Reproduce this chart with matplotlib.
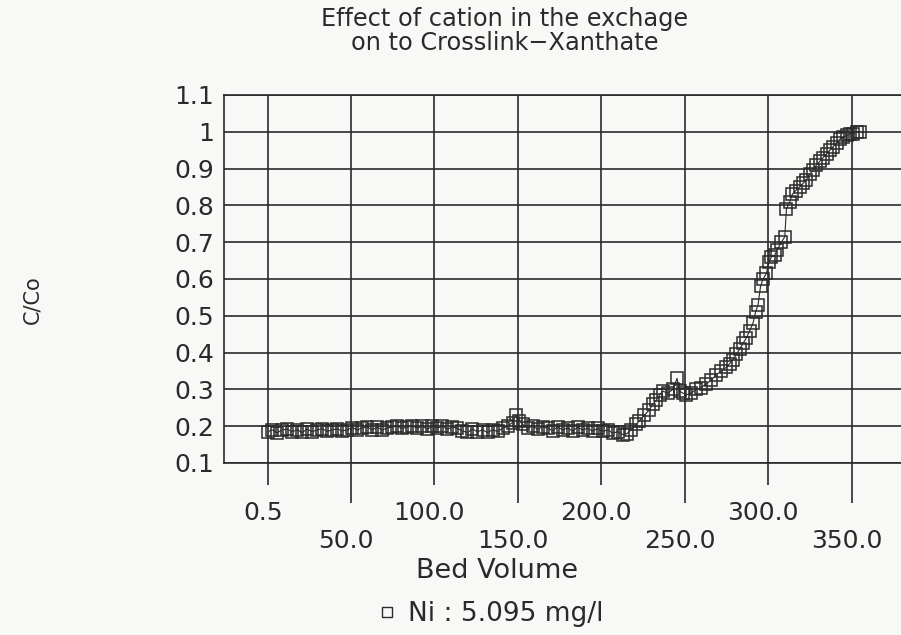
import matplotlib
matplotlib.use("Agg")
import matplotlib.pyplot as plt
from matplotlib.lines import Line2D
from matplotlib.ticker import NullLocator
import matplotlib.transforms as mtransforms

# Breakthrough data: bed volume vs. C/Co for Ni on crosslinked xanthate
bed_volume = [
    0.5, 3, 6, 9, 12, 15, 18, 21, 24, 27, 30, 33, 36, 39, 42, 45, 48, 51, 54, 57,
    60, 63, 66, 69, 72, 75, 78, 81, 84, 87, 90, 93, 96, 99, 102, 105, 108, 111,
    114, 117, 120, 123, 126, 129, 132, 135, 138, 141, 144, 147, 149, 151, 153,
    156, 159, 162, 165, 168, 171, 174, 177, 180, 183, 186, 189, 192, 195, 198,
    201, 204, 207, 210, 213,
    215.5, 218, 221, 223, 226, 229, 231, 233, 235, 237, 240, 243, 245.5, 247,
    249, 251, 254, 257, 260, 263, 266, 269, 272, 275, 277, 279, 281, 283, 285,
    287, 289, 291, 292.5, 294, 295.5, 297, 299, 300.5, 302, 304, 305.5, 308,
    310, 311, 313, 314.5, 316.5, 319, 321, 323, 325, 327, 329, 331, 333, 335,
    337, 339, 341, 343, 345, 347, 349, 351, 353, 355,
]
c_over_co = [
    0.185, 0.19, 0.182, 0.19, 0.192, 0.185, 0.19, 0.183, 0.192, 0.185, 0.19,
    0.193, 0.186, 0.19, 0.193, 0.187, 0.19, 0.196, 0.19, 0.195, 0.198, 0.19,
    0.197, 0.19, 0.195, 0.198, 0.2, 0.194, 0.198, 0.2, 0.195, 0.2, 0.192,
    0.2, 0.195, 0.2, 0.192, 0.198, 0.194, 0.187, 0.183, 0.192, 0.185, 0.19,
    0.183, 0.19, 0.186, 0.194, 0.2, 0.21, 0.23, 0.215, 0.205, 0.195, 0.2,
    0.192, 0.198, 0.195, 0.188, 0.198, 0.19, 0.195, 0.187, 0.197, 0.19, 0.194,
    0.187, 0.194, 0.186, 0.19, 0.181, 0.185, 0.177,
    0.18, 0.19, 0.205, 0.215, 0.23, 0.245, 0.26, 0.27, 0.285, 0.295, 0.29,
    0.30, 0.33, 0.295, 0.29, 0.285, 0.29, 0.30, 0.305, 0.315, 0.325, 0.34,
    0.35, 0.36, 0.37, 0.38, 0.395, 0.41, 0.425, 0.44, 0.46, 0.48, 0.51,
    0.53, 0.58, 0.60, 0.615, 0.645, 0.66, 0.665, 0.68, 0.70, 0.715, 0.79,
    0.81, 0.83, 0.84, 0.85, 0.86, 0.87, 0.885, 0.895, 0.91, 0.92, 0.93,
    0.94, 0.95, 0.96, 0.97, 0.98, 0.985, 0.99, 0.995, 0.995, 1.0, 1.0,
]

# x ticks alternate between an upper and a lower label row
x_ticks = [0.5, 50, 100, 150, 200, 250, 300, 350]
x_labels = ["0.5", "50.0", "100.0", "150.0", "200.0", "250.0", "300.0", "350.0"]
x_lower_row = [False, True, False, True, False, True, False, True]
y_ticks = [0.1, 0.2, 0.3, 0.4, 0.5, 0.6, 0.7, 0.8, 0.9, 1.0, 1.1]
y_labels = ["0.1", "0.2", "0.3", "0.4", "0.5", "0.6", "0.7", "0.8", "0.9", "1", "1.1"]

title_text = "Effect of cation in the exchage\non to Crosslink\u2212Xanthate"
legend_text = "Ni : 5.095 mg/l"

ink = "#2a2a2a"
paper = "#f8f8f6"
plt.rcParams["font.family"] = ["DejaVu Sans"]

fig = plt.figure(figsize=(9.01, 6.35), dpi=100, facecolor=paper)
ax_h_px = 463 - 95
ax = fig.add_axes([224 / 901, 172 / 635, (905 - 224) / 901, ax_h_px / 635])
ax.set_facecolor(paper)

ax.plot(bed_volume, c_over_co, color=ink, lw=0.8, marker="s", ms=8.5,
        mfc="none", mec=ink, mew=1.1, zorder=3)

ax.set_xlim(-25.8, 382)
ax.set_ylim(0.1, 1.1)

ax.set_yticks(y_ticks)
ax.set_yticklabels(y_labels, fontsize=18, color=ink)
ax.tick_params(axis="y", length=0, pad=7)

ax.xaxis.set_major_locator(NullLocator())
ax.set_xticks(x_ticks, minor=True)
ax.set_xticklabels([("\n" + t) if low else t for t, low in zip(x_labels, x_lower_row)],
                   minor=True, fontsize=18, color=ink, linespacing=1.25)
ax.tick_params(axis="x", which="minor", direction="out", bottom=True,
               length=0, color=ink, pad=27)

ax.grid(True, which="minor", axis="x", color=ink, lw=1.2)
ax.grid(True, which="major", axis="y", color=ink, lw=1.2)
ax.set_axisbelow(True)

# tick marks below the axis: short for the upper label row, long for the lower row
upper_pos = [t for t, low in zip(x_ticks, x_lower_row) if not low]
lower_pos = [t for t, low in zip(x_ticks, x_lower_row) if low]
xform = ax.get_xaxis_transform()
ax.vlines(upper_pos, -22 / ax_h_px, 0, transform=xform, colors=ink, lw=1.2, clip_on=False)
ax.vlines(lower_pos, -40 / ax_h_px, 0, transform=xform, colors=ink, lw=1.2, clip_on=False)

# labels sit a little left of their tick marks
shift = mtransforms.ScaledTranslation(-5 / 100, 0, fig.dpi_scale_trans)
for tick in ax.xaxis.get_minor_ticks(len(x_ticks)):
    tick.label1.set_transform(tick.label1.get_transform() + shift)

for s in ax.spines.values():
    s.set_color(ink)
    s.set_linewidth(1.2)

fig.text(505 / 901, 1 - 31 / 635, title_text, ha="center", va="center",
         fontsize=17.3, color=ink, linespacing=0.95)
fig.text(497 / 901, 1 - 571 / 635, "Bed Volume", ha="center", va="center",
         fontsize=19.5, color=ink)
fig.text(32 / 901, 1 - 300 / 635, "C/Co", ha="center", va="center",
         rotation=90, fontsize=15, color=ink)

handle = Line2D([], [], ls="none", marker="s", ms=7, mfc="none", mec=ink, mew=1.0)
fig.legend([handle], [legend_text], loc="center", bbox_to_anchor=(490 / 901, 1 - 614 / 635),
           frameon=False, fontsize=19, handlelength=0.8, handletextpad=0.4,
           labelcolor=ink)

fig.savefig("out.png", dpi=100, facecolor=paper)
